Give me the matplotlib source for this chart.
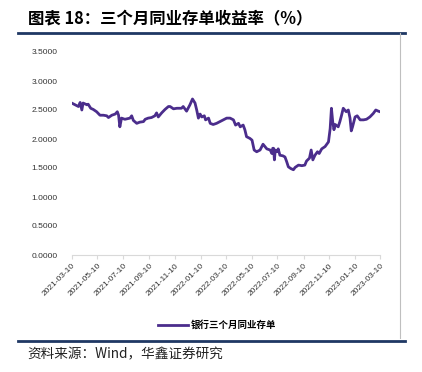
import matplotlib
matplotlib.use("Agg")
import matplotlib.pyplot as plt
import numpy as np
import datetime as dt

plt.rcParams['font.family'] = ['Noto Sans CJK SC', 'DejaVu Sans']

# ---- donnees ----
start = dt.date(2021, 3, 10)
day_offset = [0, 8, 16, 20, 24, 27, 36, 39, 45, 51, 59, 67, 75, 83, 87, 95, 103, 108, 111, 114,
              118, 126, 138, 142, 146, 154, 161, 170, 174, 181, 189, 197, 201, 205, 213, 221, 229,
              233, 241, 249, 260, 264, 272, 280, 286, 292, 296, 300, 304, 308, 314, 317, 324, 328,
              335, 343, 351, 359, 367, 375, 383, 388, 395, 399, 406, 410, 414, 422, 427, 432, 438,
              446, 453, 462, 470, 474, 476, 478, 480, 482, 486, 489, 493, 500, 505, 509, 513, 519,
              525, 529, 537, 545, 552, 556, 563, 567, 571, 576, 582, 586, 592, 600, 608, 612, 615,
              618, 621, 624, 631, 635, 639, 643, 650, 655, 659, 662, 665, 671, 676, 683, 691, 698,
              706, 714, 720, 726, 730]
rate = [2.62, 2.59, 2.56, 2.63, 2.50, 2.62, 2.59, 2.60, 2.53, 2.51, 2.47, 2.41, 2.41, 2.40, 2.37,
        2.41, 2.43, 2.47, 2.41, 2.21, 2.36, 2.34, 2.36, 2.40, 2.32, 2.27, 2.29, 2.30, 2.34, 2.36,
        2.37, 2.40, 2.45, 2.38, 2.45, 2.51, 2.56, 2.56, 2.52, 2.53, 2.53, 2.56, 2.48, 2.59, 2.69,
        2.62, 2.50, 2.36, 2.43, 2.38, 2.40, 2.33, 2.36, 2.27, 2.25, 2.27, 2.30, 2.33, 2.36, 2.36,
        2.33, 2.24, 2.27, 2.21, 2.24, 2.16, 2.04, 2.01, 1.98, 1.81, 1.78, 1.81, 1.91, 1.83, 1.81,
        1.75, 1.84, 1.84, 1.64, 1.81, 1.78, 1.83, 1.72, 1.71, 1.69, 1.61, 1.52, 1.49, 1.47, 1.51,
        1.55, 1.54, 1.55, 1.62, 1.67, 1.81, 1.64, 1.72, 1.78, 1.75, 1.83, 1.87, 1.95, 2.18, 2.53,
        2.30, 2.16, 2.25, 2.21, 2.30, 2.41, 2.53, 2.47, 2.50, 2.36, 2.14, 2.21, 2.38, 2.40, 2.33,
        2.33, 2.34, 2.38, 2.44, 2.50, 2.48, 2.47]
tick_dates = ['2021-03-10', '2021-05-10', '2021-07-10', '2021-09-10', '2021-11-10', '2022-01-10',
              '2022-03-10', '2022-05-10', '2022-07-10', '2022-09-10', '2022-11-10', '2023-01-10',
              '2023-03-10']
y_ticks = [0, 0.5, 1.0, 1.5, 2.0, 2.5, 3.0, 3.5]

dates = [start + dt.timedelta(days=d) for d in day_offset]
ticks = [dt.date.fromisoformat(s) for s in tick_dates]

fig = plt.figure(figsize=(4.22, 3.72), dpi=100)
W, H = 422, 372

# titre + filets
fig.text(28 / W, 1 - 19 / H, '图表 18：三个月同业存单收益率（%）', fontsize=11.8, fontweight='bold',
         va='center', ha='left', color='black')
fig.add_artist(plt.Line2D([18 / W, 405 / W], [1 - 32.5 / H] * 2, color='#1f3864', lw=2))
fig.add_artist(plt.Line2D([400 / W, 400 / W], [1 - 33 / H, 1 - 338 / H], color='#bfbfbf', lw=0.8))
fig.add_artist(plt.Line2D([18 / W, 405 / W], [1 - 341 / H] * 2, color='#1f3864', lw=2))
fig.text(27 / W, 1 - 354 / H, '资料来源：Wind，华鑫证券研究', fontsize=9.8, va='center', ha='left',
         color='#222222')

ax = fig.add_axes([71.7 / W, 1 - 255 / H, 308.3 / W, 203 / H])
ax.plot(dates, rate, '-', color='#4b2d8c', lw=2.0, label='银行三个月同业存单')
ax.set_xlim(ticks[0], ticks[-1])
ax.set_ylim(0, 3.5)
ax.set_yticks(y_ticks)
ax.set_yticklabels(['%.4f' % v for v in y_ticks], family='Liberation Sans', fontsize=6)
ax.set_xticks(ticks)
ax.set_xticklabels(tick_dates, rotation=45, ha='right', rotation_mode='anchor',
                   family='Liberation Sans', fontsize=6)
for s in ['top', 'right', 'left']:
    ax.spines[s].set_visible(False)
ax.spines['bottom'].set_color('#d9d9d9')
ax.tick_params(axis='y', length=0, labelcolor='#333333', pad=10)
ax.tick_params(axis='x', length=3, color='#d9d9d9', labelcolor='#333333', pad=2)

ax.legend(loc='center', bbox_to_anchor=(217 / W, 1 - 325 / H), bbox_transform=fig.transFigure,
          frameon=False, prop={'size': 6.8, 'weight': 'bold'}, handlelength=3.2, handletextpad=0.2)

fig.savefig('out.png', dpi=100)
